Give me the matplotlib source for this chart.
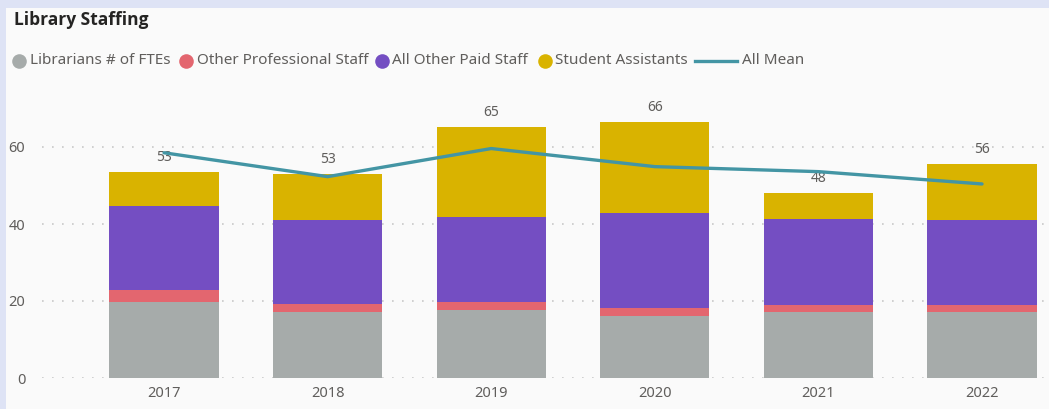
import matplotlib.pyplot as plt
from matplotlib.patches import Rectangle
from matplotlib.lines import Line2D
import numpy as np

plt.rcParams["font.family"] = ["Noto Sans", "DejaVu Sans"]

years = ["2017", "2018", "2019", "2020", "2021", "2022"]
librarians = [19.7, 17.2, 17.7, 16.1, 17.1, 17.1]
other_prof = [3.2, 2.0, 2.0, 2.0, 1.9, 1.9]
other_paid = [21.8, 21.8, 22.0, 24.7, 22.3, 22.0]
students = [8.7, 12.0, 23.6, 23.6, 6.8, 14.7]
all_mean = [58.5, 52.3, 59.6, 54.9, 53.6, 50.4]

series = [
    ("Librarians # of FTEs", librarians, "#a6abaa"),
    ("Other Professional Staff", other_prof, "#e3666f"),
    ("All Other Paid Staff", other_paid, "#744ec2"),
    ("Student Assistants", students, "#d9b300"),
]
line_color = "#4395a4"
text_gray = "#605e5c"

W, H = 1049, 409
fig = plt.figure(figsize=(W / 100, H / 100), dpi=100, facecolor="#dee3f5")
fig.patches.append(Rectangle((6 / W, 0), 1, (H - 8) / H, transform=fig.transFigure,
                             facecolor="#fafafa", edgecolor="none", zorder=-5))

ax = fig.add_axes([42 / W, (H - 378) / H, (1045 - 42) / W, (378 - 108.5) / H])
ax.set_facecolor("none")

x = np.arange(len(years))
bottom = np.zeros(len(years))
for name, vals, col in series:
    ax.bar(x, vals, 0.667, bottom=bottom, color=col, linewidth=0, zorder=2)
    bottom += np.array(vals)

for xi, tot in zip(x, bottom):
    ax.annotate(f"{tot:.0f}", (xi, tot), xytext=(0, 5), textcoords="offset points",
                ha="center", va="bottom", fontsize=10, color=text_gray, zorder=3,
                annotation_clip=False)

ax.plot(x, all_mean, color=line_color, linewidth=2.4, zorder=4,
        solid_capstyle="round", solid_joinstyle="round")

ax.set_xlim(-0.746, 5.385)
ax.set_ylim(0, 70)
ax.set_yticks([0, 20, 40, 60])
ax.set_xticks(x)
ax.set_xticklabels(years)
ax.tick_params(length=0, labelsize=10.5, colors=text_gray, pad=6)
ax.tick_params(axis="y", pad=12)
for side in ax.spines.values():
    side.set_visible(False)
for yv in [0, 20, 40, 60]:
    ax.axhline(yv, color="#c8c8c8", linewidth=1.2, linestyle=(0, (1, 5)), zorder=1)

fig.text(14 / W, (H - 20) / H, "Library Staffing", fontsize=12.5, fontweight="bold",
         family=["Open Sans", "DejaVu Sans"], color="#252423", va="center", ha="left")

# legend, laid out by hand like the Power BI header
leg_y = (H - 61) / H
marker_x = [19, 186, 382, 545]
text_x = [30, 197, 392, 555]
for (name, _, col), mx, tx in zip(series, marker_x, text_x):
    fig.add_artist(Line2D([mx / W], [leg_y], marker="o", markersize=10.5,
                          markerfacecolor=col, markeredgecolor="none",
                          transform=fig.transFigure))
    fig.text(tx / W, leg_y, name, fontsize=11, color=text_gray, va="center", ha="left")
fig.add_artist(Line2D([695 / W, 737 / W], [leg_y, leg_y], color=line_color,
                      linewidth=2.4, transform=fig.transFigure))
fig.text(742 / W, leg_y, "All Mean", fontsize=11, color=text_gray, va="center", ha="left")

fig.savefig("out.png", dpi=100, facecolor=fig.get_facecolor())
